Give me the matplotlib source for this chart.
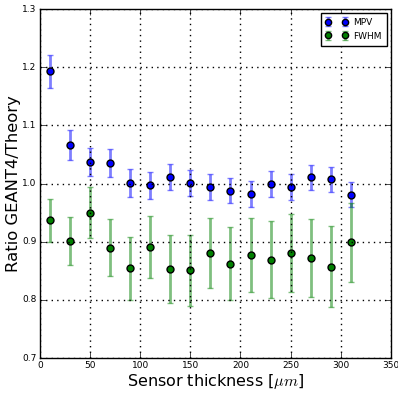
import matplotlib
matplotlib.use("Agg")
import matplotlib.pyplot as plt

plt.style.use('classic')

thickness = [10, 30, 50, 70, 90, 110, 130, 150, 170, 190, 210, 230, 250, 270, 290, 310]
mpv = [1.193, 1.066, 1.037, 1.036, 1.001, 0.997, 1.011, 1.001, 0.994, 0.988, 0.982, 0.999, 0.994, 1.011, 1.007, 0.981]
mpv_err = [0.028, 0.026, 0.0245, 0.024, 0.0235, 0.023, 0.022, 0.022, 0.022, 0.022, 0.022, 0.022, 0.022, 0.0215, 0.0215, 0.022]
fwhm = [0.937, 0.901, 0.950, 0.890, 0.854, 0.891, 0.853, 0.851, 0.880, 0.862, 0.877, 0.869, 0.880, 0.872, 0.857, 0.899]
fwhm_err = [0.037, 0.041, 0.0435, 0.049, 0.054, 0.054, 0.059, 0.061, 0.060, 0.063, 0.064, 0.066, 0.067, 0.067, 0.070, 0.068]

fig = plt.figure(figsize=(3.98, 3.93), dpi=100, facecolor='white')
ax = fig.add_axes([0.1005, 0.089, 0.8815, 0.888])

ax.errorbar(thickness, mpv, yerr=mpv_err, fmt='o', color='b', ecolor=(0, 0, 1, 0.5),
            elinewidth=2, capsize=2.3, capthick=1.5, ms=5, mec='k', mew=1, label='MPV')
ax.errorbar(thickness, fwhm, yerr=fwhm_err, fmt='o', color='g', ecolor=(0, 0.5, 0, 0.5),
            elinewidth=2, capsize=2.3, capthick=1.5, ms=5, mec='k', mew=1, label='FWHM')

ax.set_xlim(0, 350)
ax.set_ylim(0.7, 1.3)
ax.grid(True, linestyle=':', color='k', linewidth=1)
ax.tick_params(labelsize=6.5, pad=2.5)
ax.set_xlabel(r'Sensor thickness [$\mu m$]', fontsize=11.5, labelpad=1)
ax.set_ylabel('Ratio GEANT4/Theory', fontsize=11.8, labelpad=1)
leg = ax.legend(loc='upper right', numpoints=2, fontsize=6.5, fancybox=False,
                borderpad=0.55, handlelength=2.45, labelspacing=0.5, handletextpad=0.6,
                borderaxespad=0.45, markerscale=0.9)
leg.get_frame().set_linewidth(1)

fig.savefig('out.png', dpi=100, facecolor='white')
